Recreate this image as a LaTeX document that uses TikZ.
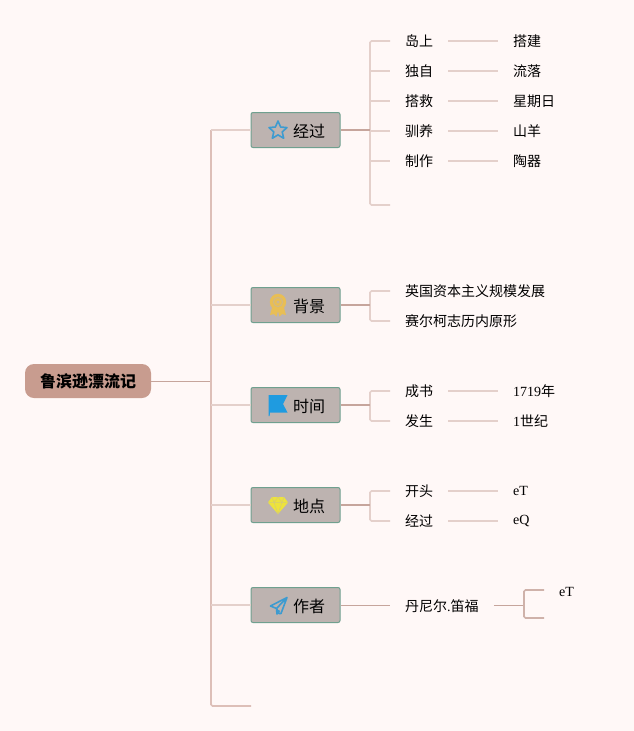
\documentclass[tikz,border=0pt]{standalone}
\usepackage{fontspec}
\setmainfont{Liberation Serif}
\newfontfamily\cjk{Noto Sans CJK SC}
\definecolor{bgc}{HTML}{FFF8F7}
\definecolor{rootc}{HTML}{C89C8F}
\definecolor{boxc}{HTML}{BDB3B0}
\definecolor{boxb}{HTML}{6FA08F}
\definecolor{trunkc}{HTML}{DDBFB8}
\definecolor{darkl}{HTML}{C6A59C}
\definecolor{lightl}{HTML}{E4D0CB}
\definecolor{starc}{HTML}{3D9BD0}
\definecolor{goldc}{HTML}{E8BE55}
\definecolor{flagc}{HTML}{1F9BE0}
\definecolor{gemc}{HTML}{EDE33C}
\tikzset{
  x=1pt,y=-1pt,
  rootbox/.style={draw=none,fill=rootc,rounded corners=9pt,minimum width=126pt,minimum height=34pt,inner sep=0,font=\cjk\fontsize{16}{16}\selectfont\bfseries},
  branchbox/.style={draw=boxb,line width=1pt,fill=boxc,rounded corners=2pt,minimum width=89pt,minimum height=35pt,inner sep=0},
  branchtext/.style={inner sep=0,font=\cjk\fontsize{16}{16}\selectfont},
  leaf/.style={anchor=west,inner xsep=15pt,inner ysep=0pt,font=\cjk\fontsize{14}{14}\selectfont},
  latinleaf/.style={anchor=west,inner xsep=15pt,inner ysep=0pt,font=\rmfamily\fontsize{14}{14}\selectfont},
  trunk/.style={draw=trunkc,line width=1.6pt,rounded corners=1.5pt},
  rootlink/.style={draw=darkl,line width=1pt},
  stub/.style={draw=lightl,line width=1.2pt},
  outlink/.style={draw=darkl,line width=1.6pt},
  bracket/.style={draw=lightl,line width=1.6pt,rounded corners=1.5pt},
  leaflink/.style={draw=lightl,line width=1.6pt},
  thinlink/.style={draw=darkl,line width=1pt}
}
\begin{document}
\begin{tikzpicture}
\useasboundingbox (0,0) rectangle (634,731);
\fill[bgc] (0,0) rectangle (634,731);

% nodes
\node[rootbox] (root) at (88,381) {鲁滨逊漂流记};
\node[branchbox] (b0) at (295.5,130) {};
\node[branchbox] (b1) at (295.5,305) {};
\node[branchbox] (b2) at (295.5,405) {};
\node[branchbox] (b3) at (295.5,505) {};
\node[branchbox] (b4) at (295.5,605) {};
\node[branchtext] (b0t) at (309,131) {经过};
\node[branchtext] (b1t) at (309,306) {背景};
\node[branchtext] (b2t) at (309,406) {时间};
\node[branchtext] (b3t) at (309,506) {地点};
\node[branchtext] (b4t) at (309,606) {作者};

\node[leaf] (a1) at (390,41) {岛上};
\node[leaf] (a2) at (390,71) {独自};
\node[leaf] (a3) at (390,101) {搭救};
\node[leaf] (a4) at (390,131) {驯养};
\node[leaf] (a5) at (390,161) {制作};
\node[leaf] (c1) at (498,41) {搭建};
\node[leaf] (c2) at (498,71) {流落};
\node[leaf] (c3) at (498,101) {星期日};
\node[leaf] (c4) at (498,131) {山羊};
\node[leaf] (c5) at (498,161) {陶器};
\node[leaf] (d1) at (390,291) {英国资本主义规模发展};
\node[leaf] (d2) at (390,321) {赛尔柯志历内原形};
\node[leaf] (f1) at (390,391) {成书};
\node[leaf] (f2) at (390,421) {发生};
\node[latinleaf] (g1) at (498,391) {1719{\cjk 年}};
\node[latinleaf] (g2) at (498,421) {1{\cjk 世纪}};
\node[leaf] (h1) at (390,491) {开头};
\node[leaf] (h2) at (390,521) {经过};
\node[latinleaf] (i1) at (498,491) {eT};
\node[latinleaf] (i2) at (498,521) {eQ};
\node[leaf] (k1) at (390,606) {丹尼尔{\rmfamily .}笛福};
\node[latinleaf] (k2) at (544,592) {eT};

% free ends and junctions
\coordinate (tx) at (211,0);
\coordinate (jx) at (370,0);
\coordinate (kx) at (390,0);
\coordinate (tj) at (tx |- root.east);
\coordinate (t0) at (tx |- b0.west);
\coordinate (tb) at (211,706);
\coordinate (tend) at (251,706);
\coordinate (e0) at (390,205);
\coordinate (br0) at (370,205);
\coordinate (j0) at (jx |- b0.east);
\coordinate (j1) at (jx |- b1.east);
\coordinate (j2) at (jx |- b2.east);
\coordinate (j3) at (jx |- b3.east);
\coordinate (k0) at (kx |- b4.east);
\coordinate (j4) at (524,605);
\coordinate (e4a) at (544,590);
\coordinate (e4b) at (544,618);

% connectors
\draw[rootlink] (root.east) -- (tj);
\draw[trunk] (t0) -- (tb) -- (tend);
\draw[stub] (t0) -- (b0.west);
\foreach \n in {b1,b2,b3,b4} \draw[stub] (tx |- \n.west) -- (\n.west);
\draw[bracket] (a1.west) -| (br0) -- (e0);
\foreach \n in {a2,a3,a4,a5} \draw[stub] (jx |- \n.west) -- (\n.west);
\draw[outlink] (b0.east) -- (j0);
\draw[bracket] (d1.west) -| (jx |- d2.west) -- (d2.west);
\draw[outlink] (b1.east) -- (j1);
\draw[bracket] (f1.west) -| (jx |- f2.west) -- (f2.west);
\draw[outlink] (b2.east) -- (j2);
\draw[bracket] (h1.west) -| (jx |- h2.west) -- (h2.west);
\draw[outlink] (b3.east) -- (j3);
\draw[thinlink] (b4.east) -- (k0);
\foreach \p/\q in {a1/c1,a2/c2,a3/c3,a4/c4,a5/c5,f1/g1,f2/g2,h1/i1,h2/i2} \draw[leaflink] (\p.east) -- (\q.west);
\draw[thinlink] (k1.east |- j4) -- (j4);
\draw[bracket,draw=darkl!70!lightl] (e4a) -- (524,590) -- (524,618) -- (e4b);

% icons
\draw[starc,line width=1.6pt,line join=round] (278,121) -- (280.6,127) -- (287,127.6) -- (282.2,131.9) -- (283.7,138.3) -- (278,134.9) -- (272.3,138.3) -- (273.8,131.9) -- (269,127.6) -- (275.4,127) -- cycle;

\fill[goldc] (272.5,306) -- (270,315) -- (274,314) -- (276.5,316.5) -- (278,311) -- (279.5,316.5) -- (282,314) -- (286,315) -- (283.5,306) -- cycle;
\fill[goldc] (278,302) circle (8.2);
\draw[boxc!55!goldc,line width=1pt] (278,302) circle (4.6);
\fill[boxc!70!goldc] (278,302) circle (1.6);

\fill[flagc] (268.5,395) -- (287.5,395) -- (283,404) -- (287.5,412.5) -- (270,412.5) -- (269.6,416) -- (268.5,416) -- cycle;

\fill[gemc] (272,497) -- (284,497) -- (288,502.5) -- (278,514) -- (268,502.5) -- cycle;
\draw[boxc!50!gemc,line width=.5pt] (268,502.5) -- (288,502.5) (272,497) -- (274,502.5) -- (278,514) -- (282,502.5) -- (284,497) (274,502.5) -- (278,497) -- (282,502.5);

\draw[starc,line width=1.6pt,line join=round] (287,597.5) -- (270.5,606) -- (276.5,608.5) -- (279,613.5) -- (281,613.5) -- cycle (287,597.5) -- (276.5,608.5) -- (277,614) -- (279.5,610.5);
\end{tikzpicture}
\end{document}
